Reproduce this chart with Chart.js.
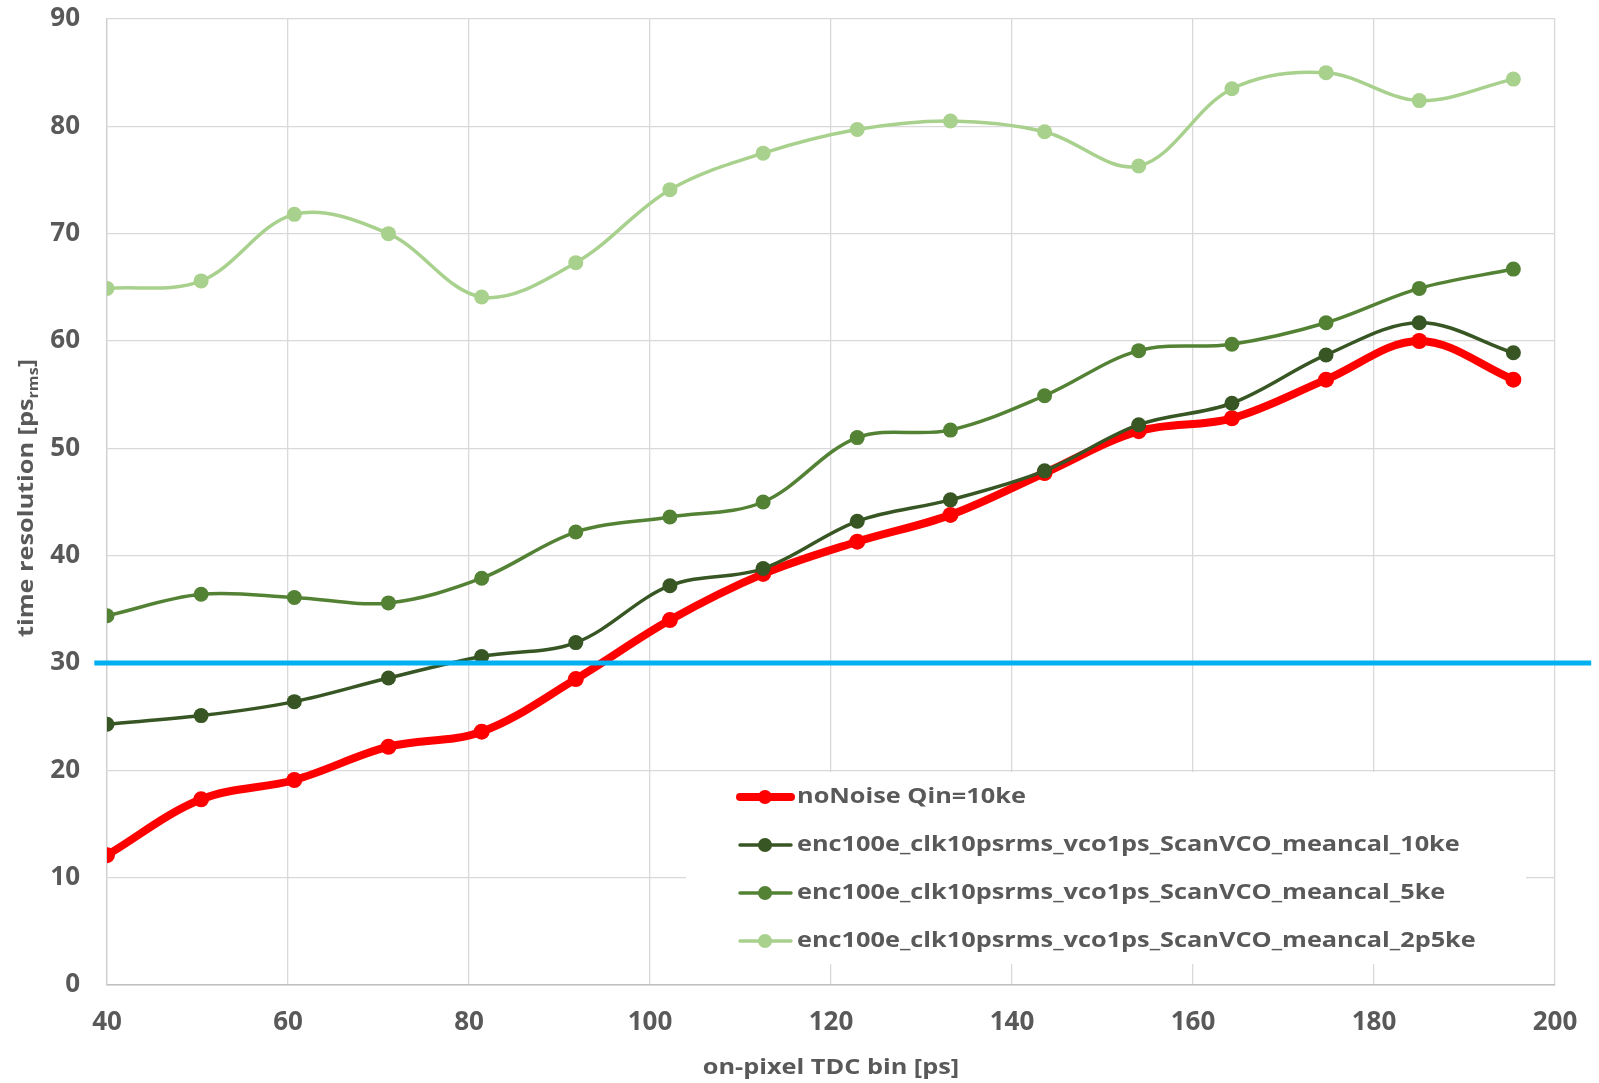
<!DOCTYPE html>
<html>
<head>
<meta charset="utf-8">
<title>time resolution vs TDC bin</title>
<script src="https://cdn.jsdelivr.net/npm/chart.js@4/dist/chart.umd.min.js"></script>
<style>
  body { margin: 0; background: #fff; }
  #wrap { width: 1599px; height: 1083px; }
</style>
</head>
<body>
<div id="wrap"><canvas id="chart" width="1599" height="1083"></canvas></div>
<script>
// x values (on-pixel TDC bin, ps)
const tdcBin = [40, 50.4, 60.7, 71.1, 81.4, 91.8, 102.2, 112.5, 122.9, 133.2, 143.6, 154.0, 164.3, 174.7, 185.0, 195.4];

const seriesNames = [
    "noNoise Qin=10ke",
    "enc100e_clk10psrms_vco1ps_ScanVCO_meancal_10ke",
    "enc100e_clk10psrms_vco1ps_ScanVCO_meancal_5ke",
    "enc100e_clk10psrms_vco1ps_ScanVCO_meancal_2p5ke"
];
const noNoise  = [12.1, 17.3, 19.1, 22.2, 23.6, 28.5, 34.0, 38.3, 41.3, 43.8, 47.7, 51.6, 52.8, 56.4, 60.0, 56.4];
const enc10ke  = [24.3, 25.1, 26.4, 28.6, 30.6, 31.9, 37.2, 38.8, 43.2, 45.2, 47.9, 52.2, 54.2, 58.7, 61.7, 58.9];
const enc5ke   = [34.4, 36.4, 36.1, 35.6, 37.9, 42.2, 43.6, 45.0, 51.0, 51.7, 54.9, 59.1, 59.7, 61.7, 64.9, 66.7];
const enc2p5ke = [64.9, 65.6, 71.8, 70.0, 64.1, 67.3, 74.1, 77.5, 79.7, 80.5, 79.5, 76.3, 83.5, 85.0, 82.4, 84.4];

// the 30 ps target line (runs a bit past both ends of the plot)
const targetY = 30;
const targetX = [38.6, 204];

const xTicks = { min: 40, max: 200, step: 20 };
const yTicks = { min: 0, max: 90, step: 10 };

const xTitle = "on-pixel TDC bin [ps]";
const textColor = "#595959";
const fontFam = "'Open Sans', 'Liberation Sans', sans-serif";
const stretch = 1.15; // excel font runs wider than open sans

function pts(ys) {
    return ys.map((y, i) => ({ x: tdcBin[i], y: y }));
}

function lineSet(label, ys, color, width, radius, order) {
    return {
        label: label,
        data: pts(ys),
        borderColor: color,
        backgroundColor: color,
        pointBackgroundColor: color,
        pointBorderColor: color,
        borderWidth: width,
        pointRadius: radius,
        pointBorderWidth: 0,
        tension: 0.35,
        order: order
    };
}

const datasets = [
    {
        label: "target",
        data: [{ x: targetX[0], y: targetY }, { x: targetX[1], y: targetY }],
        borderColor: "#00B0F0",
        borderWidth: 5,
        pointRadius: 0,
        clip: false,
        order: 0
    },
    lineSet(seriesNames[3], enc2p5ke, "#A9D18E", 3.5, 7.5, 1),
    lineSet(seriesNames[2], enc5ke, "#548235", 3.5, 7.5, 2),
    lineSet(seriesNames[1], enc10ke, "#375623", 3.5, 7.5, 3),
    lineSet(seriesNames[0], noNoise, "#FF0000", 8, 8, 4)
];

function wideText(ctx, txt, x, y) {
    ctx.save();
    ctx.translate(x, y);
    ctx.scale(stretch, 1);
    ctx.fillText(txt, 0, 0);
    ctx.restore();
}

// legend box sitting inside the plot, bottom right
const legendBox = {
    id: "legendBox",
    afterDatasetsDraw(chart) {
        const ctx = chart.ctx;
        ctx.save();
        ctx.fillStyle = "#fff";
        ctx.fillRect(686, 772, 840, 192);
        const order = [4, 3, 2, 1];
        order.forEach((di, k) => {
            const ds = chart.data.datasets[di];
            const cy = 797 + k * 48;
            ctx.strokeStyle = ds.borderColor;
            ctx.lineWidth = ds.borderWidth;
            ctx.lineCap = "round";
            ctx.beginPath();
            ctx.moveTo(740, cy);
            ctx.lineTo(791, cy);
            ctx.stroke();
            ctx.fillStyle = ds.borderColor;
            ctx.beginPath();
            ctx.arc(765, cy, 7, 0, Math.PI * 2);
            ctx.fill();
            ctx.fillStyle = textColor;
            ctx.font = "bold 22px " + fontFam;
            ctx.textBaseline = "middle";
            ctx.textAlign = "left";
            wideText(ctx, ds.label, 797, cy);
        });
        ctx.restore();
    }
};

// axis titles (y one has the rms subscript)
const axisTitles = {
    id: "axisTitles",
    afterDraw(chart) {
        const ctx = chart.ctx;
        const area = chart.chartArea;
        ctx.save();
        ctx.fillStyle = textColor;
        ctx.textBaseline = "middle";

        // x title
        ctx.font = "bold 22px " + fontFam;
        const wx = ctx.measureText(xTitle).width * stretch;
        ctx.textAlign = "left";
        wideText(ctx, xTitle, (area.left + area.right) / 2 - wx / 2, 1068);

        // y title
        const main = "time resolution [ps";
        const sub = "rms";
        ctx.font = "bold 22px " + fontFam;
        const w1 = ctx.measureText(main).width * stretch;
        const w3 = ctx.measureText("]").width * stretch;
        ctx.font = "bold 14px " + fontFam;
        const w2 = ctx.measureText(sub).width * stretch;
        const total = w1 + w2 + w3;
        ctx.translate(27, (area.top + area.bottom) / 2 - 4);
        ctx.rotate(-Math.PI / 2);
        let x = -total / 2;
        ctx.font = "bold 22px " + fontFam;
        wideText(ctx, main, x, 0);
        x += w1;
        ctx.font = "bold 14px " + fontFam;
        wideText(ctx, sub, x, 7);
        x += w2;
        ctx.font = "bold 22px " + fontFam;
        wideText(ctx, "]", x, 0);
        ctx.restore();
    }
};

const chart = new Chart(document.getElementById("chart"), {
    type: "line",
    data: { datasets: datasets },
    options: {
        responsive: false,
        devicePixelRatio: 1,
        animation: false,
        layout: { padding: { top: 19, right: 44, left: 0, bottom: 0 } },
        plugins: {
            legend: { display: false },
            tooltip: { enabled: false }
        },
        scales: {
            x: {
                type: "linear",
                min: xTicks.min,
                max: xTicks.max,
                afterFit(scale) {
                    scale.height = 98;
                    scale.paddingLeft = 0;
                    scale.paddingRight = 0;
                },
                ticks: {
                    stepSize: xTicks.step,
                    color: textColor,
                    padding: 22,
                    font: { family: fontFam, size: 26, weight: "bold" }
                },
                grid: { color: "#D9D9D9", lineWidth: 1.3, drawTicks: false },
                border: { color: "#BFBFBF", width: 1.5 }
            },
            y: {
                min: yTicks.min,
                max: yTicks.max,
                afterFit(scale) {
                    scale.width = 107;
                    scale.paddingTop = 0;
                    scale.paddingBottom = 0;
                },
                ticks: {
                    stepSize: yTicks.step,
                    color: textColor,
                    padding: 27,
                    font: { family: fontFam, size: 26, weight: "bold" }
                },
                grid: { color: "#D9D9D9", lineWidth: 1.3, drawTicks: false },
                border: { color: "#D0D0D0", width: 1.3 }
            }
        }
    },
    plugins: [legendBox, axisTitles]
});
</script>
</body>
</html>
